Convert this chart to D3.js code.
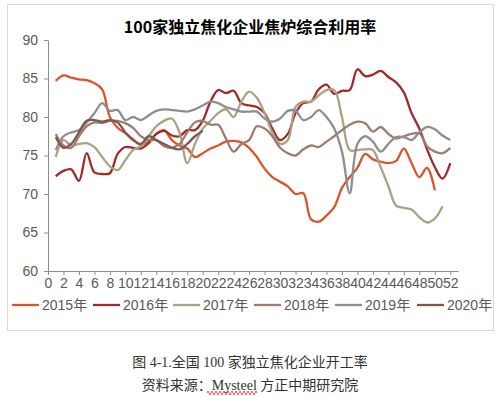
<!DOCTYPE html>
<html><head><meta charset="utf-8">
<script src="https://cdn.jsdelivr.net/npm/d3@7/dist/d3.min.js"></script>
<style>body{margin:0;background:#fff}svg{display:block}</style>
</head><body><svg id="c" width="500" height="396"></svg>
<script>
const years = ["2015年","2016年","2017年","2018年","2019年","2020年"];
const colors = ["#D9552B","#A22A28","#ABA283","#9C7D73","#8E8E8E","#80564E"];
const xTicks = d3.range(0,53,2);
const yTicks = [60,65,70,75,80,85,90];
const s2015 = [84.7,85.4,85.1,84.9,84.8,84.4,83.6,80.0,78.6,77.9,77.1,76.4,76.8,77.8,78.3,77.0,76.3,75.9,74.8,75.3,75.9,76.3,76.8,76.9,76.7,76.0,74.8,73.3,72.2,71.6,71.0,70.0,70.1,66.7,66.4,67.2,68.3,70.8,72.2,73.4,75.2,74.5,74.2,74.0,74.3,75.9,74.0,72.2,73.4,70.5];
const s2016 = [72.3,73.0,73.2,71.7,75.3,72.8,72.6,72.7,75.2,76.1,76.0,75.9,76.6,77.8,78.2,77.6,77.5,78.3,78.3,79.5,82.0,83.5,83.1,83.4,81.8,81.5,81.3,80.5,78.5,77.0,77.8,80.5,81.8,82.0,83.6,84.2,83.0,83.4,83.5,86.2,85.3,85.5,86.0,85.2,84.5,83.2,80.5,78.5,75.8,73.5,72.0,74.0];
const s2017 = [74.8,77.0,76.3,76.5,76.6,76.1,74.8,73.6,73.1,74.4,75.7,76.2,77.5,78.8,79.5,79.8,78.0,74.0,76.5,78.5,79.5,80.5,81.0,80.0,82.0,83.3,82.5,80.5,78.0,76.5,77.0,81.3,82.0,82.0,82.8,83.5,83.5,80.0,75.7,75.7,75.8,75.7,73.5,71.0,68.5,68.2,68.0,67.0,66.3,66.8,68.4];
const s2018 = [77.8,76.3,76.0,77.5,78.8,79.3,79.2,79.5,79.5,79.2,78.6,77.5,77.0,77.0,76.2,76.0,76.5,78.0,79.3,79.5,79.0,79.0,77.2,75.5,76.5,77.0,78.8,78.5,77.5,76.0,75.3,75.0,75.8,76.3,76.1,76.8,77.5,78.3,79.0,79.4,79.2,78.1,78.7,77.8,77.2,77.5,77.8,77.9,76.2,75.5,75.3,76.0];
const s2019 = [75.7,77.5,78.0,78.3,79.3,80.5,81.8,80.8,80.9,79.6,80.0,79.6,80.2,80.8,81.0,80.9,80.8,80.7,81.0,81.5,82.0,81.8,81.3,81.0,80.7,80.7,80.7,79.8,79.4,79.8,80.8,80.8,79.6,80.0,80.9,80.0,78.5,75.5,70.1,76.5,77.5,76.8,75.5,76.5,77.4,77.4,77.0,78.0,78.7,78.4,77.6,77.0];
const s2020 = [77.4,76.0,76.5,78.0,79.5,79.6,79.4,79.6,79.3,78.0,77.0,76.5,77.5,77.0,76.5,76.0,75.8,76.5,77.5,78.2];
const series = [s2015,s2016,s2017,s2018,s2019,s2020];

const svg = d3.select("#c");
const font = "'Liberation Sans', Arial, 'Noto Sans CJK SC', sans-serif";
svg.append("rect").attr("x",7.5).attr("y",4.5).attr("width",486).attr("height",326)
  .attr("fill","#fff").attr("stroke","#D9D9D9").attr("stroke-width",1);

svg.append("text").attr("x",250).attr("y",33).attr("text-anchor","middle")
  .attr("font-family","'Noto Sans CJK SC', sans-serif").attr("font-weight","bold")
  .attr("font-size",16).attr("fill","#000").text("100家独立焦化企业焦炉综合利用率");

const x = d3.scaleLinear().domain([0,53]).range([48,458]);
const y = d3.scaleLinear().domain([60,90]).range([271,40]);

const yAxis = svg.append("g").attr("transform","translate(48,0)")
  .call(d3.axisLeft(y).tickValues(yTicks).tickSize(4).tickSizeOuter(0).tickPadding(6));
const xAxis = svg.append("g").attr("transform","translate(0,271)")
  .call(d3.axisBottom(x).tickValues(xTicks).tickSize(4).tickSizeOuter(0).tickPadding(3));
[yAxis,xAxis].forEach(g=>{
  g.selectAll("path,line").attr("stroke","#8C8C8C");
  g.selectAll("text").attr("font-family",font).attr("font-size",14).attr("fill","#595959");
});

const line = d3.line().x((d,i)=>x(i+1)).y(d=>y(d)).curve(d3.curveCatmullRom.alpha(0.5));
series.forEach((s,k)=>{
  svg.append("path").attr("d",line(s)).attr("fill","none")
    .attr("stroke",colors[k]).attr("stroke-width",2.3).attr("stroke-linejoin","round");
});

const lg = svg.append("g");
const lx = [12,93,173,254,335,417];
years.forEach((t,k)=>{
  lg.append("line").attr("x1",lx[k]).attr("x2",lx[k]+27).attr("y1",305).attr("y2",305)
    .attr("stroke",colors[k]).attr("stroke-width",2.3);
  lg.append("text").attr("x",lx[k]+30).attr("y",310).attr("font-family",font)
    .attr("font-size",14).attr("fill","#595959").text(t);
});

const cf = "'Liberation Serif','Noto Sans CJK SC',serif";
svg.append("text").attr("x",250).attr("y",367).attr("text-anchor","middle")
  .attr("font-family",cf).attr("font-size",14).attr("fill","#333").text("图 4-1.全国 100 家独立焦化企业开工率");
svg.append("text").attr("x",250).attr("y",390).attr("text-anchor","middle")
  .attr("font-family",cf).attr("font-size",14).attr("fill","#333").text("资料来源：Mysteel  方正中期研究院");
let wp = "M207,393";
for(let i=0;i<25;i++){ wp += ` l1,${i%2?2:-2} l1,${i%2?-2:2}`; }
svg.append("path").attr("d",wp).attr("fill","none").attr("stroke","#E03030").attr("stroke-width",0.8);
</script></body></html>
